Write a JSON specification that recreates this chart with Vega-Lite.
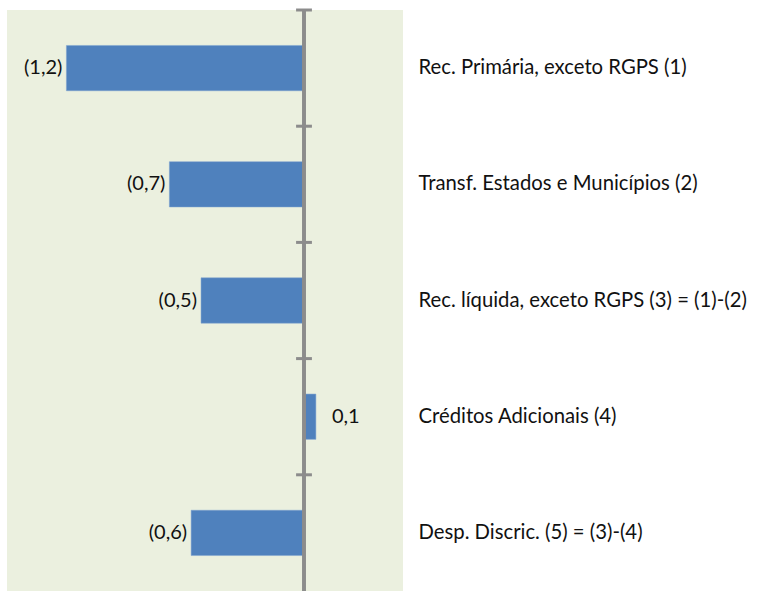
{
  "$schema": "https://vega.github.io/schema/vega-lite/v6.json",
  "width": 396,
  "height": 581,
  "autosize": {"type": "none"},
  "padding": {"left": 7, "top": 10, "right": 357, "bottom": 0},
  "background": "white",
  "config": {
    "view": {"fill": "#EBF0DF", "stroke": null},
    "font": "Lato"
  },
  "data": {
    "values": [
      {"item": "Rec. Primária, exceto RGPS (1)", "value": -1.2, "label": "(1,2)"},
      {"item": "Transf. Estados  e Municípios (2)", "value": -0.68, "label": "(0,7)"},
      {"item": "Rec. líquida, exceto RGPS (3) = (1)-(2)", "value": -0.52, "label": "(0,5)"},
      {"item": "Créditos Adicionais (4)", "value": 0.06, "label": "0,1"},
      {"item": "Desp. Discric. (5) = (3)-(4)", "value": -0.57, "label": "(0,6)"}
    ]
  },
  "encoding": {
    "y": {
      "field": "item",
      "type": "nominal",
      "sort": null,
      "scale": {"paddingInner": 0, "paddingOuter": 0},
      "axis": {
        "orient": "right",
        "title": null,
        "ticks": false,
        "domain": false,
        "labelAlign": "left",
        "labelPadding": 15,
        "labelFontSize": 20.3,
        "labelFont": "Lato",
        "labelColor": "#111111",
        "labelLimit": 400
      }
    }
  },
  "layer": [
    {
      "mark": {"type": "bar", "height": {"band": 0.39}, "color": "#4F81BD", "stroke": "#7FA3D0", "strokeWidth": 0.5},
      "encoding": {
        "x": {"field": "value", "type": "quantitative", "scale": {"domain": [-1.5, 0.5], "nice": false}, "axis": null}
      }
    },
    {
      "mark": {"type": "rule", "color": "#8C8C8C", "strokeWidth": 3},
      "encoding": {
        "x": {"datum": 0, "type": "quantitative"},
        "y": null
      }
    },
    {
      "mark": {"type": "rule", "color": "#8C8C8C", "strokeWidth": 3},
      "encoding": {
        "y": {"field": "item", "type": "nominal", "sort": null, "bandPosition": 0},
        "x": {"datum": -0.04, "type": "quantitative"},
        "x2": {"datum": 0.04}
      }
    },
    {
      "transform": [{"filter": "datum.value < 0"}],
      "mark": {"type": "text", "align": "right", "dx": -4, "fontSize": 20, "font": "Lato", "color": "#111111"},
      "encoding": {
        "x": {"field": "value", "type": "quantitative"},
        "text": {"field": "label"}
      }
    },
    {
      "transform": [{"filter": "datum.value >= 0"}],
      "mark": {"type": "text", "align": "left", "dx": 16, "fontSize": 20, "font": "Lato", "color": "#111111"},
      "encoding": {
        "x": {"field": "value", "type": "quantitative"},
        "text": {"field": "label"}
      }
    }
  ]
}
